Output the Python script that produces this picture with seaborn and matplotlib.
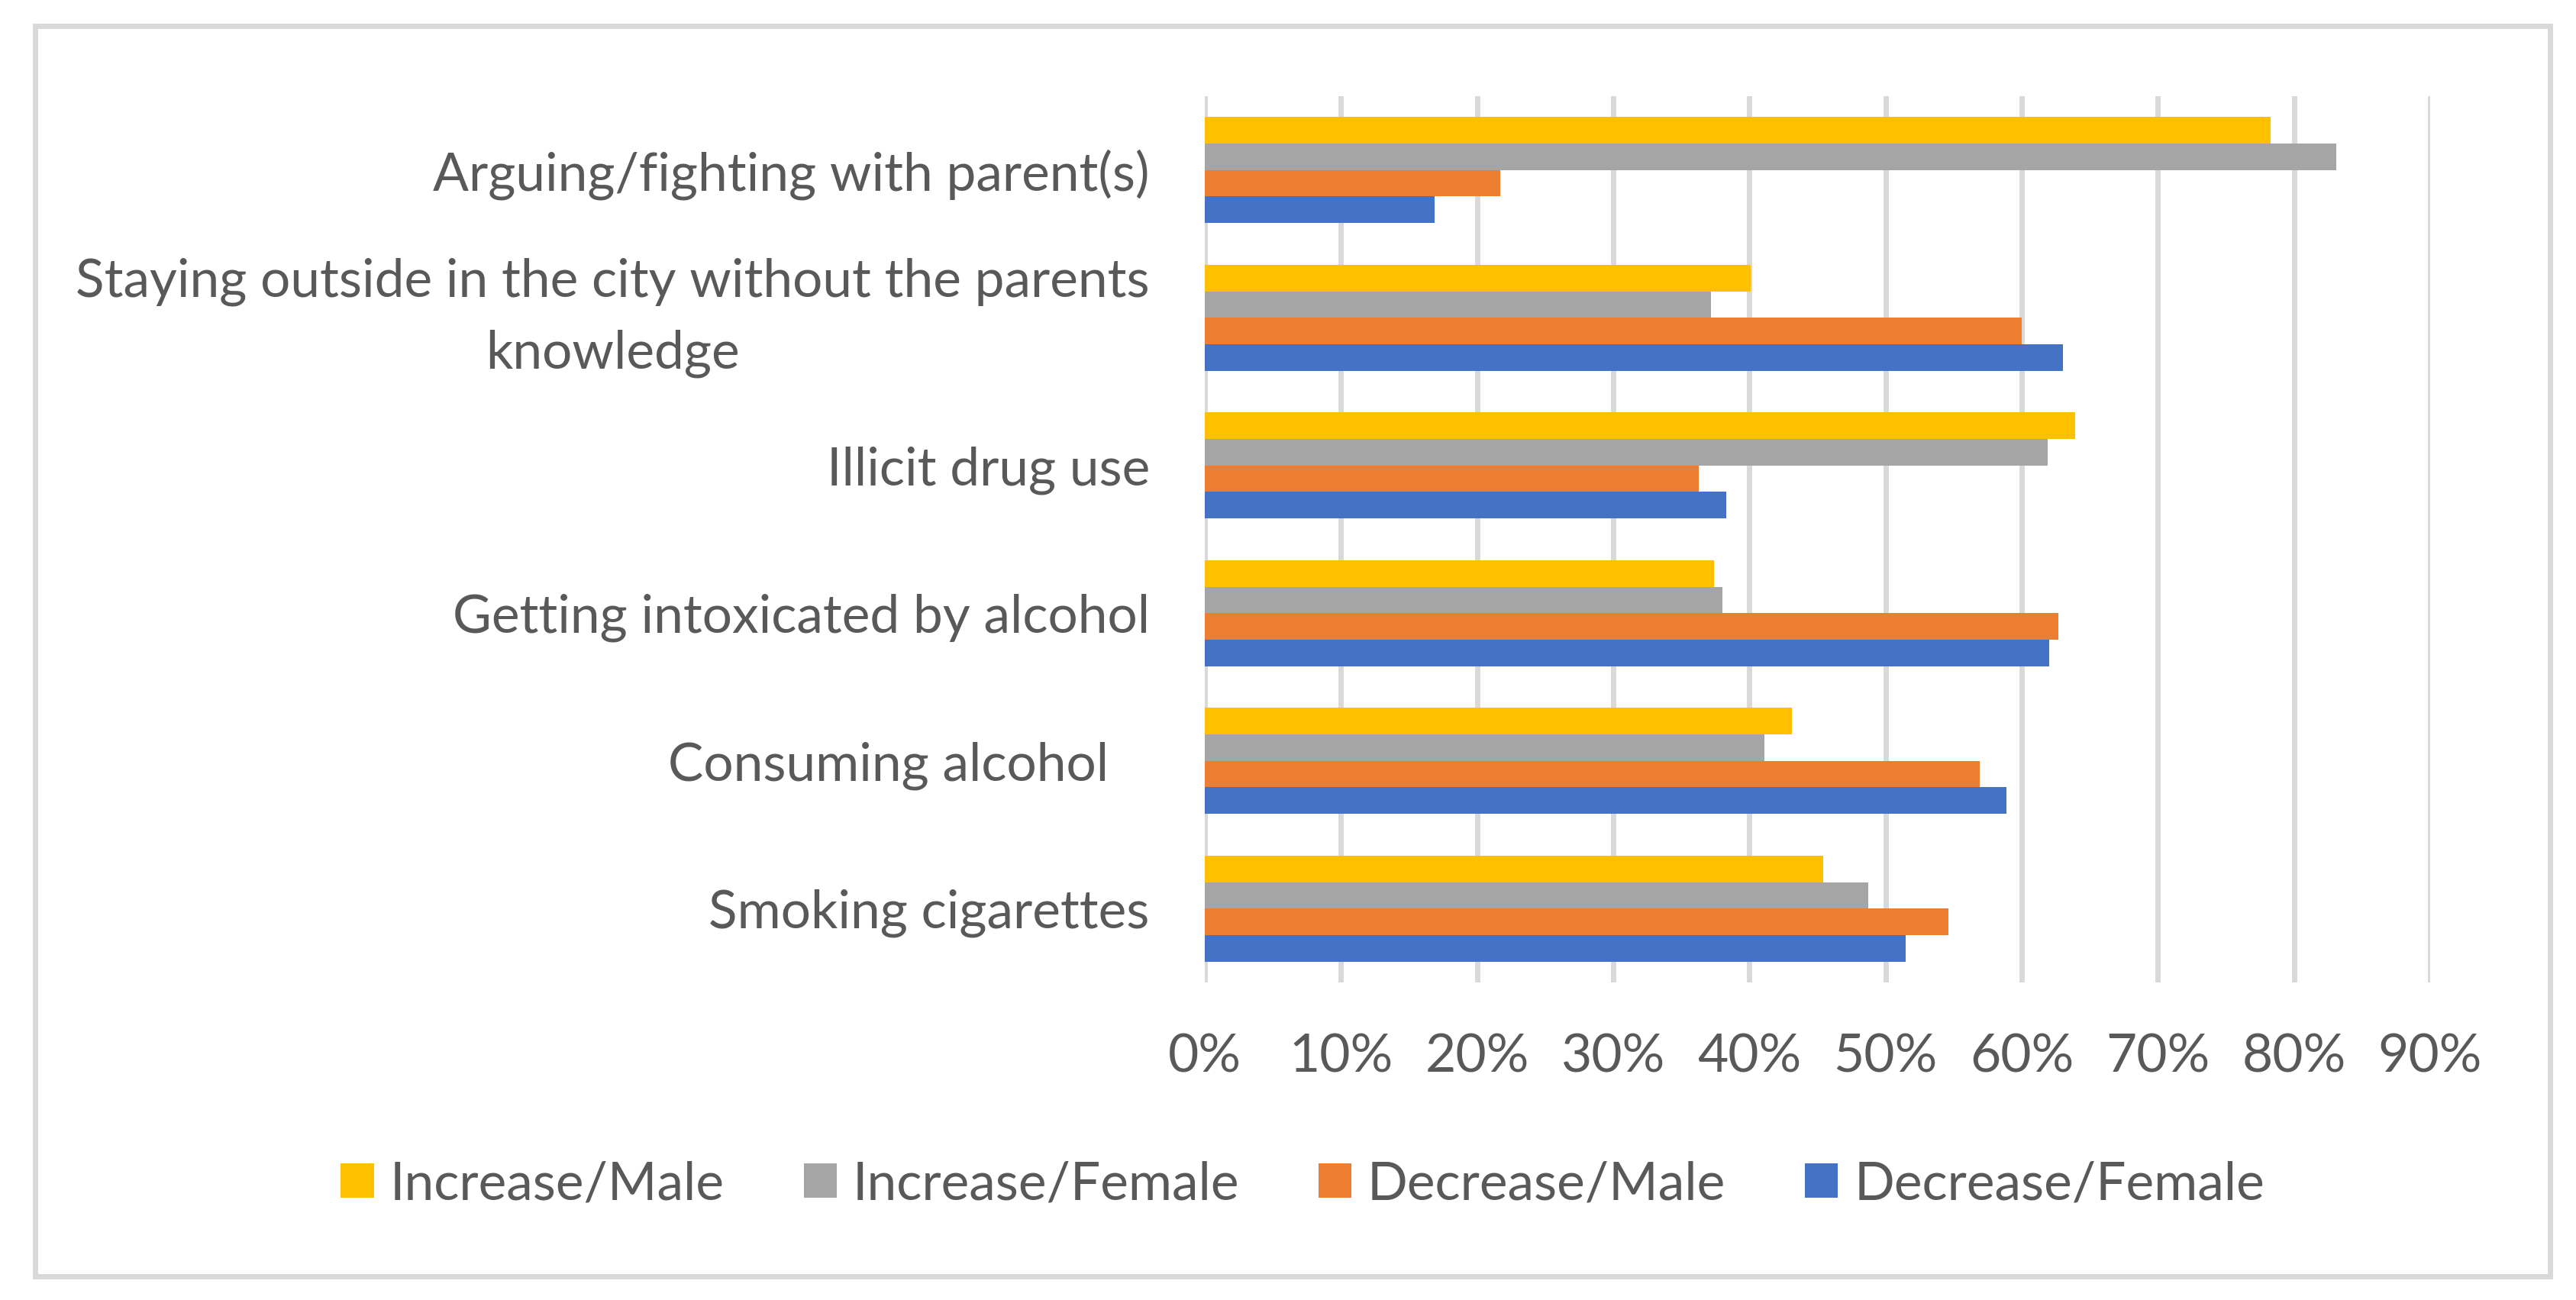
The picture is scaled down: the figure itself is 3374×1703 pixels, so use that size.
import matplotlib
matplotlib.use("Agg")
import matplotlib.pyplot as plt
from matplotlib.patches import Rectangle
import pandas as pd
import seaborn as sns

# values (percent)
behaviours = [
    "Arguing/fighting with parent(s)",
    "Staying outside in the city without the parents\nknowledge",
    "Illicit drug use",
    "Getting intoxicated by alcohol",
    "Consuming alcohol   ",
    "Smoking cigarettes",
]
groups = ["Increase/Male", "Increase/Female", "Decrease/Male", "Decrease/Female"]
increase_male = [78.3, 40.1, 63.9, 37.4, 43.1, 45.4]
increase_female = [83.1, 37.2, 61.9, 38.0, 41.1, 48.7]
decrease_male = [21.7, 60.0, 36.3, 62.7, 56.9, 54.6]
decrease_female = [16.9, 63.0, 38.3, 62.0, 58.9, 51.5]
xticks = [0, 10, 20, 30, 40, 50, 60, 70, 80, 90]

COLORS = ["#FFC000", "#A5A5A5", "#ED7D31", "#4472C4"]
TEXT = "#595959"
GRID = "#D9D9D9"
FS = 25

df = pd.DataFrame({
    "behaviour": behaviours * 4,
    "group": [g for g in groups for _ in behaviours],
    "value": increase_male + increase_female + decrease_male + decrease_female,
})

sns.set_theme(style="white")
plt.rcParams["font.family"] = ["Lato", "DejaVu Sans"]

fig = plt.figure(figsize=(16.87, 8.515), dpi=200, facecolor="white")
ax = fig.add_axes([0.4677, 0.2443, 0.4757, 0.6817])

sns.barplot(data=df, x="value", y="behaviour", hue="group", hue_order=groups,
            order=behaviours, palette=COLORS, orient="h", width=0.717,
            saturation=1, errorbar=None, linewidth=0, ax=ax)

ax.set_xlim(0, 90)
ax.set_ylim(5.5, -0.5)
ax.set_xticks(xticks)
ax.set_xticklabels([f"{t}%" for t in xticks])
ax.grid(axis="x", color=GRID, linewidth=2.5)
ax.set_axisbelow(True)
for s in ax.spines.values():
    s.set_visible(False)
ax.set_xlabel("")
ax.set_ylabel("")
ax.tick_params(axis="x", length=0, pad=24, labelsize=FS, labelcolor=TEXT)
ax.tick_params(axis="y", length=0, pad=26, labelsize=FS, labelcolor=TEXT)
for lbl in ax.get_yticklabels():
    if "\n" in lbl.get_text():
        lbl.set_multialignment("center")
        lbl.set_linespacing(1.6)
        lbl.set_verticalalignment("center")

leg = ax.get_legend()
handles = leg.legend_handles
leg.remove()
fig.legend(handles, groups, loc="center", bbox_to_anchor=(0.5057, 0.0887),
           ncol=4, frameon=False, fontsize=FS, labelcolor=TEXT,
           handlelength=0.62, handleheight=0.62, handletextpad=0.3,
           columnspacing=1.5)

# chart border
fig.patches.append(Rectangle((0.01363, 0.0182), 0.9763, 0.9618,
                             transform=fig.transFigure, fill=False,
                             edgecolor=GRID, linewidth=2.5))

fig.savefig("out.png", dpi=200, facecolor="white")
